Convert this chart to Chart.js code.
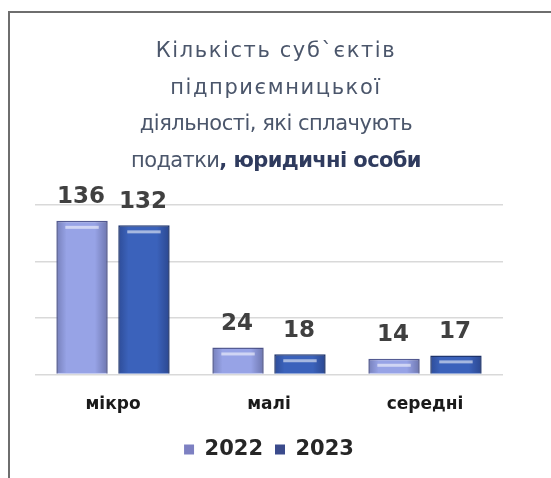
<!DOCTYPE html>
<html>
<head>
<meta charset="utf-8">
<script src="https://cdn.jsdelivr.net/npm/chart.js@4/dist/chart.umd.min.js"></script>
<style>
html,body{margin:0;padding:0;background:#fff;}
#wrap{position:relative;width:551px;height:478px;}
</style>
</head>
<body>
<div id="wrap"><canvas id="c" width="551" height="478"></canvas></div>
<script>
const categories = ['мікро', 'малі', 'середні'];
const values2022 = [136, 24, 14];
const values2023 = [132, 18, 17];
const seriesNames = ['2022', '2023'];
const titleLines = ['Кількість суб`єктів', 'підприємницької', 'діяльності, які сплачують'];
const titleLastNormal = 'податки';
const titleLastBold = ', юридичні особи';

const FONT = '"DejaVu Sans", "Noto Sans", sans-serif';

const framePlugin = {
  id: 'frame',
  beforeDraw(chart) {
    const ctx = chart.ctx;
    ctx.save();
    ctx.strokeStyle = '#6e6e6e';
    ctx.lineWidth = 2;
    ctx.beginPath();
    ctx.moveTo(9, 478);
    ctx.lineTo(9, 12);
    ctx.lineTo(551, 12);
    ctx.stroke();
    ctx.restore();
  }
};

const titlePlugin = {
  id: 'customTitle',
  afterDraw(chart) {
    const ctx = chart.ctx;
    ctx.save();
    ctx.textBaseline = 'alphabetic';
    const cx = 276;
    const ys = [57, 94, 130, 167];
    const spacing = ['1.6px', '1.6px', '-0.5px', '-0.6px'];
    ctx.textAlign = 'center';
    ctx.fillStyle = '#4b566b';
    ctx.font = '400 21px ' + FONT;
    titleLines.forEach((t, i) => {
      ctx.letterSpacing = spacing[i];
      ctx.fillText(t, cx, ys[i]);
    });
    ctx.letterSpacing = spacing[3];
    const w1 = ctx.measureText(titleLastNormal).width;
    ctx.font = '700 21px ' + FONT;
    const w2 = ctx.measureText(titleLastBold).width;
    const x = cx - (w1 + w2) / 2;
    ctx.textAlign = 'left';
    ctx.font = '400 21px ' + FONT;
    ctx.fillStyle = '#4b566b';
    ctx.fillText(titleLastNormal, x, ys[3]);
    ctx.font = '700 21px ' + FONT;
    ctx.fillStyle = '#2f3b5e';
    ctx.fillText(titleLastBold, x + w1, ys[3]);
    ctx.restore();
  }
};

const shadePlugin = {
  id: 'barShade',
  afterDatasetsDraw(chart) {
    const ctx = chart.ctx;
    ctx.save();
    chart.data.datasets.forEach((ds, di) => {
      const meta = chart.getDatasetMeta(di);
      meta.data.forEach((bar) => {
        const left = bar.x - bar.width / 2;
        const w = bar.width;
        const top = bar.y;
        const h = bar.base - bar.y;
        const g = ctx.createLinearGradient(left, 0, left + w, 0);
        g.addColorStop(0, 'rgba(0,0,30,0.22)');
        g.addColorStop(0.2, 'rgba(0,0,30,0)');
        g.addColorStop(0.75, 'rgba(0,0,30,0)');
        g.addColorStop(1, 'rgba(0,0,30,0.28)');
        ctx.fillStyle = g;
        ctx.fillRect(left + 1, top + 1, w - 2, h - 2);
        if (h > 10) {
          ctx.fillStyle = 'rgba(255,255,255,0.55)';
          ctx.fillRect(left + 9, top + 5, w - 18, 3);
        }
      });
    });
    ctx.restore();
  }
};

const labelPlugin = {
  id: 'valueLabels',
  afterDatasetsDraw(chart) {
    const ctx = chart.ctx;
    ctx.save();
    ctx.font = '700 23px ' + FONT;
    ctx.fillStyle = '#404040';
    ctx.textAlign = 'center';
    ctx.textBaseline = 'bottom';
    chart.data.datasets.forEach((ds, di) => {
      const meta = chart.getDatasetMeta(di);
      meta.data.forEach((bar, i) => {
        ctx.fillText(String(ds.data[i]), bar.x - 1, bar.y - 12);
      });
    });
    ctx.restore();
  }
};

new Chart(document.getElementById('c'), {
  type: 'bar',
  data: {
    labels: categories,
    datasets: [
      {
        label: seriesNames[0],
        data: values2022,
        backgroundColor: '#97a3e6',
        borderColor: '#555c94',
        borderWidth: 1.5,
        categoryPercentage: 0.794,
        barPercentage: 0.83
      },
      {
        label: seriesNames[1],
        data: values2023,
        backgroundColor: '#3b62bb',
        borderColor: '#1f3670',
        borderWidth: 1.5,
        categoryPercentage: 0.794,
        barPercentage: 0.83
      }
    ]
  },
  options: {
    responsive: false,
    animation: false,
    devicePixelRatio: 1,
    layout: { padding: { top: 205, left: 35, right: 48, bottom: 8 } },
    plugins: {
      title: { display: false },
      tooltip: { enabled: false },
      legend: {
        display: true,
        position: 'bottom',
        labels: {
          boxWidth: 10,
          boxHeight: 10,
          padding: 12,
          color: '#262626',
          font: { family: FONT, size: 21, weight: '700' },
          generateLabels(chart) {
            const cols = ['#7d80c2', '#3b4b8c'];
            return chart.data.datasets.map((ds, i) => ({
              text: ds.label,
              fillStyle: cols[i],
              strokeStyle: cols[i],
              lineWidth: 0,
              datasetIndex: i,
              fontColor: '#262626'
            }));
          }
        }
      }
    },
    scales: {
      x: {
        grid: { display: false },
        border: { display: false },
        ticks: {
          color: '#1a1a1a',
          padding: 12,
          font: { family: FONT, size: 17, weight: '700' }
        }
      },
      y: {
        min: 0,
        max: 150,
        ticks: { display: false, stepSize: 50 },
        border: { display: false },
        grid: { color: '#d9d9d9', lineWidth: 1.5, drawTicks: false }
      }
    }
  },
  plugins: [framePlugin, titlePlugin, shadePlugin, labelPlugin]
});
</script>
</body>
</html>
